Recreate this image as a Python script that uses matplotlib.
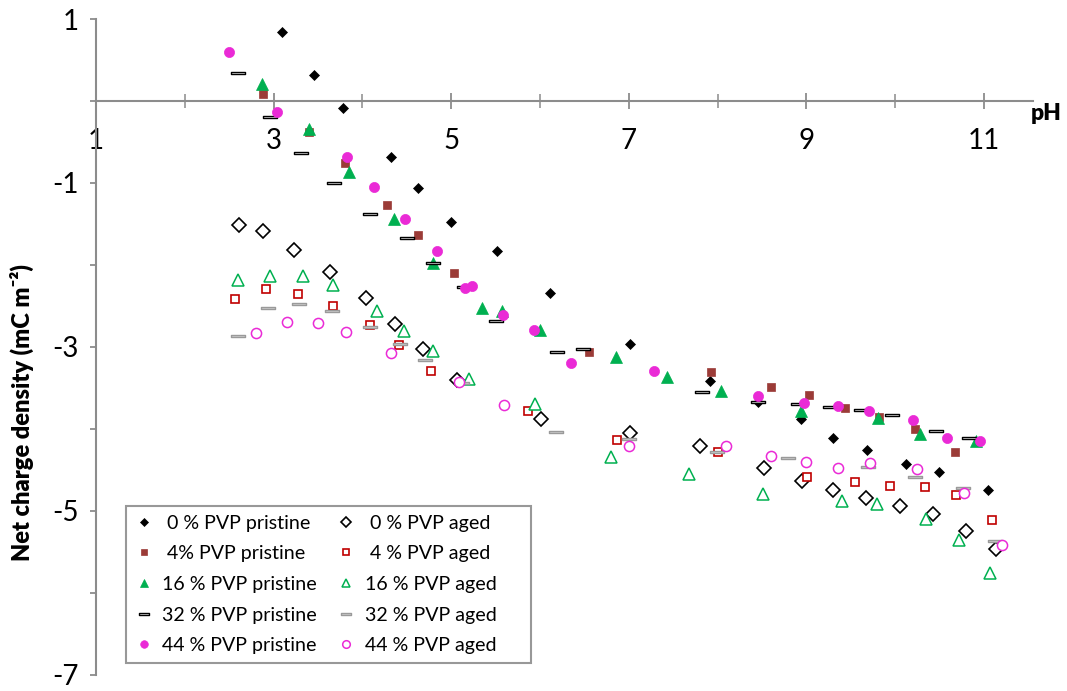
import matplotlib
matplotlib.use('Agg')
import matplotlib.pyplot as plt
from matplotlib.path import Path
from matplotlib.ticker import FixedLocator

plt.rcParams['font.family'] = ['Lato', 'DejaVu Sans']
plt.rcParams['axes.unicode_minus'] = False

# ---------------- data (pH, net charge density mC m^-2) ----------------
ph_p0 = [3.09, 3.45, 3.78, 4.32, 4.63, 5.00, 5.51, 6.11, 7.01, 7.91, 8.46, 8.94, 9.30, 9.68, 10.12, 10.49, 11.04]
q_p0 = [0.84, 0.32, -0.09, -0.68, -1.06, -1.48, -1.83, -2.34, -2.96, -3.41, -3.67, -3.88, -4.11, -4.26, -4.43, -4.53, -4.74]

ph_p4 = [2.88, 3.40, 3.80, 4.28, 4.63, 5.03, 6.55, 7.93, 8.60, 9.03, 9.43, 9.82, 10.22, 10.67]
q_p4 = [0.08, -0.38, -0.76, -1.27, -1.64, -2.10, -3.06, -3.30, -3.49, -3.59, -3.74, -3.85, -4.00, -4.28]

ph_p16 = [2.87, 3.40, 3.85, 4.36, 4.80, 5.35, 5.57, 6.00, 6.85, 7.43, 8.04, 8.94, 9.81, 10.28, 10.91]
q_p16 = [0.21, -0.34, -0.87, -1.44, -1.97, -2.53, -2.56, -2.79, -3.12, -3.36, -3.54, -3.78, -3.87, -4.06, -4.15]

ph_p32 = [2.60, 2.96, 3.31, 3.68, 4.09, 4.50, 4.79, 5.14, 5.50, 6.19, 6.48, 7.82, 8.46, 8.90, 9.26, 9.61, 9.96, 10.46, 10.83]
q_p32 = [0.34, -0.20, -0.63, -1.00, -1.38, -1.67, -1.98, -2.27, -2.68, -3.06, -3.03, -3.55, -3.67, -3.70, -3.73, -3.77, -3.83, -4.02, -4.11]

ph_p44 = [2.50, 3.04, 3.83, 4.13, 4.48, 4.84, 5.16, 5.23, 5.58, 5.93, 6.35, 7.28, 8.46, 8.97, 9.36, 9.71, 10.20, 10.58, 10.95]
q_p44 = [0.60, -0.14, -0.68, -1.05, -1.44, -1.83, -2.28, -2.26, -2.61, -2.79, -3.19, -3.29, -3.60, -3.68, -3.72, -3.78, -3.89, -4.11, -4.15]

ph_a0 = [2.61, 2.88, 3.23, 3.63, 4.04, 4.37, 4.68, 5.06, 6.01, 7.01, 7.80, 8.52, 8.95, 9.30, 9.67, 10.05, 10.43, 10.80, 11.14]
q_a0 = [-1.51, -1.58, -1.82, -2.08, -2.40, -2.72, -3.03, -3.40, -3.88, -4.05, -4.21, -4.47, -4.63, -4.74, -4.84, -4.94, -5.04, -5.24, -5.46]

ph_a4 = [2.56, 2.91, 3.27, 3.67, 4.08, 4.41, 4.77, 5.86, 6.87, 8.00, 9.01, 9.55, 9.94, 10.34, 10.69, 11.09]
q_a4 = [-2.41, -2.29, -2.35, -2.50, -2.73, -2.98, -3.29, -3.78, -4.13, -4.28, -4.58, -4.65, -4.69, -4.71, -4.80, -5.11]

ph_a16 = [2.60, 2.96, 3.33, 3.67, 4.16, 4.47, 4.79, 5.20, 5.94, 6.80, 7.68, 8.51, 9.40, 9.79, 10.35, 10.72, 11.07]
q_a16 = [-2.18, -2.13, -2.13, -2.24, -2.56, -2.80, -3.05, -3.39, -3.69, -4.34, -4.55, -4.79, -4.88, -4.92, -5.10, -5.35, -5.76]

ph_a32 = [2.60, 2.94, 3.29, 3.66, 4.09, 4.42, 4.71, 5.12, 6.18, 7.00, 7.99, 8.79, 9.69, 10.22, 10.76, 11.12]
q_a32 = [-2.87, -2.52, -2.48, -2.56, -2.76, -2.96, -3.16, -3.44, -4.04, -4.12, -4.28, -4.36, -4.46, -4.59, -4.72, -5.37]

ph_a44 = [2.80, 3.15, 3.50, 3.82, 4.32, 5.09, 5.59, 7.00, 8.09, 8.60, 8.99, 9.36, 9.72, 10.24, 10.78, 11.20]
q_a44 = [-2.83, -2.70, -2.71, -2.82, -3.07, -3.43, -3.71, -4.21, -4.21, -4.33, -4.40, -4.48, -4.42, -4.49, -4.78, -5.42]

labels_pristine = [' 0 % PVP pristine', ' 4% PVP pristine', '16 % PVP pristine', '32 % PVP pristine', '44 % PVP pristine']
labels_aged = [' 0 % PVP aged', ' 4 % PVP aged', '16 % PVP aged', '32 % PVP aged', '44 % PVP aged']

# ---------------- styling ----------------
bar = Path([(-1, -0.2), (1, -0.2), (1, 0.2), (-1, 0.2), (-1, -0.2)],
           [Path.MOVETO, Path.LINETO, Path.LINETO, Path.LINETO, Path.CLOSEPOLY])

BROWN = '#9b3b37'
GREEN = '#00b050'
MAG = '#ea2ad6'
RED = '#c00000'
GRAY = '#9a9a9a'
AX = '#8c8c8c'

fig = plt.figure(figsize=(10.67, 6.91), dpi=100)
ax = fig.add_axes([0.090, 0.0232, 0.878, 0.9493])

kw = dict(linestyle='none')
hp = []
ha = []
# aged (open symbols)
ha.append(ax.plot(ph_a0, q_a0, marker='D', ms=7.0, mfc='white', mec='black', mew=1.2, **kw)[0])
ha.append(ax.plot(ph_a4, q_a4, marker='s', ms=6.3, mfc='white', mec=RED, mew=1.2, **kw)[0])
ha.append(ax.plot(ph_a16, q_a16, marker='^', ms=8.6, mfc='white', mec=GREEN, mew=1.1, **kw)[0])
ha.append(ax.plot(ph_a32, q_a32, marker=bar, ms=10, mfc='#d4d4d4', mec=GRAY, mew=1.0, **kw)[0])
ha.append(ax.plot(ph_a44, q_a44, marker='o', ms=7.3, mfc='white', mec=MAG, mew=1.1, **kw)[0])
# pristine (filled symbols)
hp.append(ax.plot(ph_p0, q_p0, marker='D', ms=5.2, mfc='black', mec='black', mew=0.5, **kw)[0])
hp.append(ax.plot(ph_p4, q_p4, marker='s', ms=6.3, mfc=BROWN, mec=BROWN, mew=0.5, **kw)[0])
hp.append(ax.plot(ph_p16, q_p16, marker='^', ms=8.6, mfc=GREEN, mec=GREEN, mew=0.5, **kw)[0])
hp.append(ax.plot(ph_p32, q_p32, marker=bar, ms=10, mfc='white', mec='black', mew=1.0, **kw)[0])
hp.append(ax.plot(ph_p44, q_p44, marker='o', ms=7.3, mfc=MAG, mec=MAG, mew=0.5, **kw)[0])

ax.set_xlim(1, 11.55)
ax.set_ylim(-7, 1)

for s in ['top', 'right']:
    ax.spines[s].set_visible(False)
ax.spines['bottom'].set_position(('data', 0))
for s in ['left', 'bottom']:
    ax.spines[s].set_color(AX)
    ax.spines[s].set_linewidth(1.5)

ax.xaxis.set_major_locator(FixedLocator([1, 3, 5, 7, 9, 11]))
ax.xaxis.set_minor_locator(FixedLocator([2, 4, 6, 8, 10]))
ax.yaxis.set_major_locator(FixedLocator([-7, -5, -3, -1, 1]))
ax.yaxis.set_minor_locator(FixedLocator([-6, -4, -2, 0]))

ax.tick_params(axis='x', which='major', direction='inout', length=11.5, width=1.3, color=AX,
               labelsize=20, pad=14)
ax.tick_params(axis='x', which='minor', direction='inout', length=9.5, width=1.1, color=AX)
ax.tick_params(axis='y', which='both', direction='out', length=4.5, width=1.3, color=AX,
               labelsize=20, pad=8)

ax.set_ylabel('Net charge density (mC m⁻²)', fontsize=17, fontweight='heavy')
ax.yaxis.set_label_coords(-0.066, 0.40)
ax.text(0.998, 0.856, 'pH', transform=ax.transAxes, fontsize=16.5, fontweight='heavy',
        ha='left', va='center', clip_on=False)

leg = ax.legend(hp + ha, labels_pristine + [l + '     ' for l in labels_aged], ncol=2,
                loc='lower left', bbox_to_anchor=(0.032, 0.018), borderaxespad=0, fontsize=14.1,
                handlelength=0.9, handletextpad=0.5, columnspacing=1.05,
                labelspacing=0.70, borderpad=0.45, fancybox=False, frameon=True,
                shadow=False, markerscale=0.75)
leg.get_frame().set_edgecolor('#7f7f7f')
leg.get_frame().set_linewidth(1.5)

fig.savefig('out.png', dpi=100)
